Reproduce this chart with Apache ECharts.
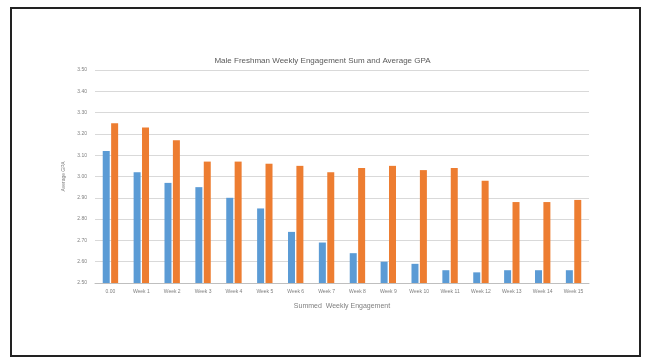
<!DOCTYPE html>
<html>
<head>
<meta charset="utf-8">
<script src="https://cdn.jsdelivr.net/npm/echarts@6/dist/echarts.min.js"></script>
<style>
  html, body { margin: 0; padding: 0; background: #fff; }
  #frame { position: absolute; left: 10px; top: 7px; width: 627px; height: 346px; border: 2px solid #222; }
  #chart { position: absolute; left: 0; top: 0; width: 645px; height: 360px; }
</style>
</head>
<body>
<div id="frame"></div>
<div id="chart"></div>
<script>
// categories on the x axis
const categories = ['0.00', 'Week 1', 'Week 2', 'Week 3', 'Week 4', 'Week 5', 'Week 6', 'Week 7',
  'Week 8', 'Week 9', 'Week 10', 'Week 11', 'Week 12', 'Week 13', 'Week 14', 'Week 15']
// blue series
const engagementSum = [3.12, 3.02, 2.97, 2.95, 2.90, 2.85, 2.74, 2.69, 2.64, 2.60, 2.59, 2.56, 2.55, 2.56, 2.56, 2.56]
// orange series
const averageGpa = [3.25, 3.23, 3.17, 3.07, 3.07, 3.06, 3.05, 3.02, 3.04, 3.05, 3.03, 3.04, 2.98, 2.88, 2.88, 2.89]

const chart = echarts.init(document.getElementById('chart'))
const textColor = '#7f7f7f'

const option = {
  animation: false,
  title: {
    text: 'Male Freshman Weekly Engagement Sum and Average GPA',
    left: 'center',
    top: 52,
    textStyle: { fontSize: 8, fontWeight: 'normal', color: '#595959', fontFamily: 'Liberation Sans' }
  },
  grid: { left: 95, right: 56, top: 70, bottom: 77 },
  xAxis: {
    type: 'category',
    data: categories,
    name: 'Summed  Weekly Engagement',
    nameLocation: 'middle',
    nameGap: 20,
    nameTextStyle: { fontSize: 7, color: textColor, fontFamily: 'Liberation Sans' },
    axisLine: { lineStyle: { color: '#bfbfbf' } },
    axisTick: { show: false },
    axisLabel: { fontSize: 5, color: textColor, margin: 6, interval: 0, fontFamily: 'Liberation Sans' }
  },
  yAxis: {
    type: 'value',
    min: 2.5,
    max: 3.5,
    interval: 0.1,
    name: 'Average GPA',
    nameLocation: 'middle',
    nameGap: 24,
    nameRotate: 90,
    nameTextStyle: { fontSize: 5, color: textColor, fontFamily: 'Liberation Sans' },
    axisLine: { show: false },
    axisTick: { show: false },
    axisLabel: {
      fontSize: 5, color: textColor, margin: 8, fontFamily: 'Liberation Sans',
      formatter: v => v.toFixed(2)
    },
    splitLine: { lineStyle: { color: '#d9d9d9', width: 1 } }
  },
  series: [
    {
      name: 'Weekly Engagement Sum',
      type: 'bar',
      data: engagementSum,
      barWidth: 7,
      barGap: '20%',
      itemStyle: { color: '#5b9bd5' }
    },
    {
      name: 'Average GPA',
      type: 'bar',
      data: averageGpa,
      barWidth: 7,
      itemStyle: { color: '#ed7d31' }
    }
  ]
}

chart.setOption(option)
</script>
</body>
</html>
